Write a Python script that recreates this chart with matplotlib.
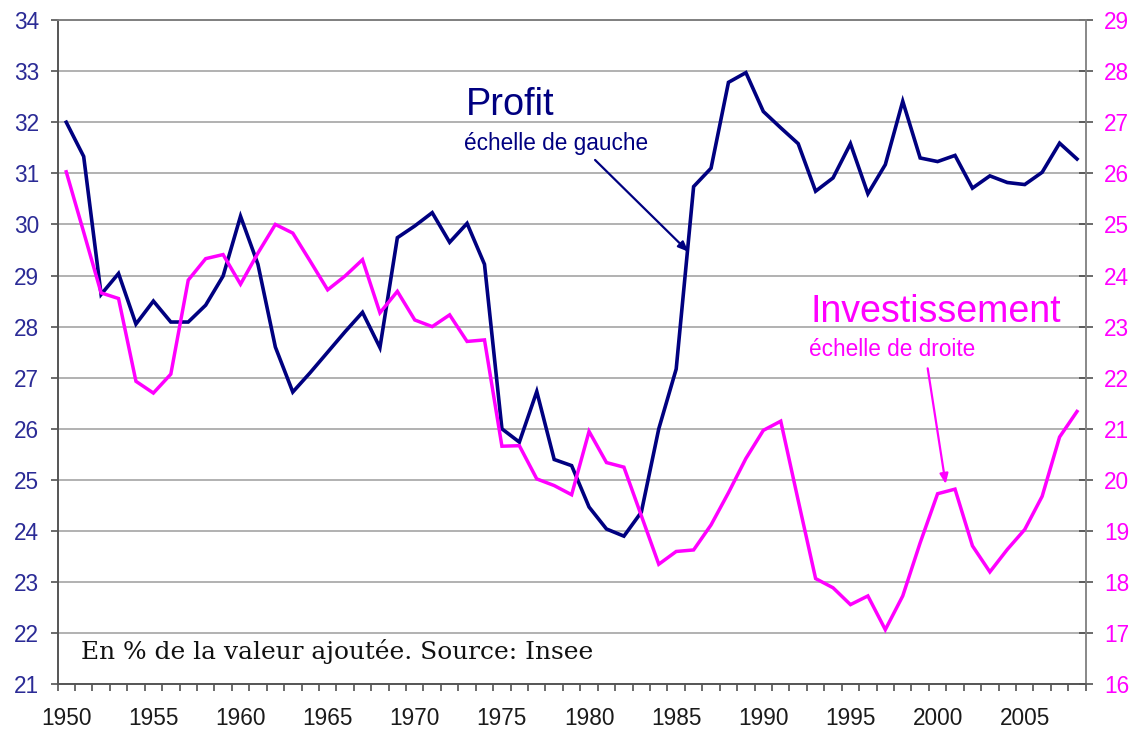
import numpy as np
import matplotlib
matplotlib.use("Agg")
import matplotlib.pyplot as plt

# Taux de profit et taux d'investissement des entreprises, en % de la VA
years = list(range(1950, 2009))

profit = [32.0, 31.33, 28.63, 29.04, 28.05, 28.50, 28.09, 28.09, 28.42, 28.99,
          30.16, 29.22, 27.60, 26.72, 27.10, 27.50, 27.90, 28.28, 27.59, 29.74,
          29.97, 30.23, 29.65, 30.02, 29.22, 26.00, 25.74, 26.73, 25.40, 25.28,
          24.47, 24.04, 23.90, 24.37, 26.00, 27.17, 30.74, 31.10, 32.78, 32.97,
          32.21, 31.89, 31.58, 30.65, 30.91, 31.58, 30.60, 31.17, 32.41, 31.30,
          31.23, 31.35, 30.71, 30.95, 30.82, 30.78, 31.02, 31.59, 31.28]

investissement = [26.03, 24.85, 23.66, 23.55, 21.93, 21.70, 22.07, 23.91, 24.33, 24.41,
                  23.83, 24.44, 25.00, 24.83, 24.28, 23.72, 23.99, 24.31, 23.27, 23.69,
                  23.13, 23.00, 23.23, 22.71, 22.74, 20.66, 20.67, 20.02, 19.89, 19.71,
                  20.95, 20.34, 20.25, 19.30, 18.35, 18.60, 18.63, 19.12, 19.75, 20.42,
                  20.97, 21.15, 19.60, 18.07, 17.89, 17.56, 17.73, 17.07, 17.73, 18.77,
                  19.73, 19.82, 18.71, 18.20, 18.64, 19.03, 19.68, 20.84, 21.34]

left_ticks = list(range(21, 35))
right_ticks = list(range(16, 30))
year_labels = list(range(1950, 2006, 5))

NAVY = "#000080"
MAGENTA = "#ff00ff"
LEFT_LBL = "#2b2b96"

plt.rcParams["font.family"] = ["Liberation Sans", "DejaVu Sans"]

fig = plt.figure(figsize=(11.37, 7.38), dpi=100)
ax = fig.add_axes([0.0506, 0.0727, 0.9043, 0.9002])
ax2 = ax.twinx()

ax.plot(years, profit, color=NAVY, lw=2.6, solid_joinstyle="miter", zorder=3)
ax2.plot(years, investissement, color=MAGENTA, lw=2.5, solid_joinstyle="miter", zorder=3)

ax.set_xlim(1949.5, 2008.5)
ax.set_ylim(21, 34)
ax2.set_ylim(16, 29)

# horizontal grid
ax.set_yticks(left_ticks)
ax.grid(axis="y", color="#ababab", lw=1.3, zorder=0)
ax.set_axisbelow(True)

# x axis: labels on years, tick marks between years
ax.set_xticks(year_labels)
ax.set_xticks(np.arange(1949.5, 2009, 1), minor=True)
ax.tick_params(axis="x", which="major", length=0, pad=16, labelsize=16.3, labelcolor="#1a1a1a")
ax.tick_params(axis="x", which="minor", length=5, width=1.1, color="#444444", direction="out")

ax.tick_params(axis="y", length=5, width=1.1, color="#444444", direction="out",
               labelsize=16.3, labelcolor=LEFT_LBL, pad=8.2)
ax2.set_yticks(right_ticks)
ax2.tick_params(axis="y", length=10, width=1.1, color="#444444", direction="inout",
                labelsize=16.3, labelcolor=MAGENTA, pad=8.2)

for a in (ax, ax2):
    a.spines["left"].set_color("#555555")
    a.spines["right"].set_color("#888888")
    a.spines["bottom"].set_color("#555555")
    a.spines["top"].set_color("#808080")
    for s in a.spines.values():
        s.set_linewidth(1.2)

# annotations
ax.text(0.3973, 0.857, "Profit", transform=ax.transAxes, fontsize=27.3,
        color=NAVY, va="baseline", ha="left")
ax.text(0.3954, 0.8043, "échelle de gauche", transform=ax.transAxes, fontsize=16.3,
        color=NAVY, va="baseline", ha="left")
ax.annotate("", xy=(0.6135, 0.6512), xytext=(0.5228, 0.7893),
            xycoords="axes fraction", textcoords="axes fraction",
            arrowprops=dict(arrowstyle="-|>,head_length=0.6,head_width=0.25",
                            color=NAVY, lw=1.6, shrinkA=0, shrinkB=0))

ax.text(0.7319, 0.5454, "Investissement", transform=ax.transAxes, fontsize=27,
        color=MAGENTA, va="baseline", ha="left")
ax.text(0.7309, 0.4942, "échelle de droite", transform=ax.transAxes, fontsize=16.3,
        color=MAGENTA, va="baseline", ha="left")
ax.annotate("", xy=(0.8638, 0.3015), xytext=(0.8463, 0.4757),
            xycoords="axes fraction", textcoords="axes fraction",
            arrowprops=dict(arrowstyle="-|>,head_length=0.6,head_width=0.25",
                            color=MAGENTA, lw=1.6, shrinkA=0, shrinkB=0))

ax.text(0.0226, 0.0381, "En % de la valeur ajoutée. Source: Insee", transform=ax.transAxes,
        fontsize=17.9, family="DejaVu Serif", color="#111111", va="baseline", ha="left")

fig.savefig("out.png", dpi=100, facecolor="white")
